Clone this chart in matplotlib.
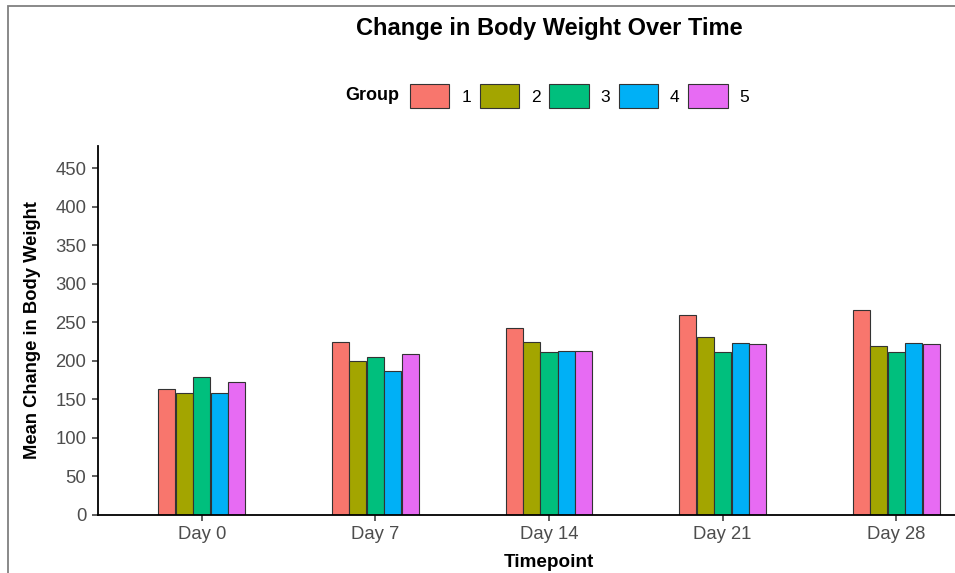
import matplotlib
matplotlib.use("Agg")
import matplotlib.pyplot as plt
from matplotlib.patches import Patch, Rectangle
import numpy as np

plt.rcParams['font.family'] = ['Liberation Sans', 'DejaVu Sans']

timepoints = ["Day 0", "Day 7", "Day 14", "Day 21", "Day 28"]
groups = ["1", "2", "3", "4", "5"]
group1 = [163, 224, 242, 259, 266]
group2 = [158, 199, 224, 231, 219]
group3 = [179, 205, 211, 211, 211]
group4 = [158, 186, 213, 223, 223]
group5 = [172, 209, 212, 221, 221]
series = [group1, group2, group3, group4, group5]
colors = ["#F8766D", "#A3A500", "#00BF7D", "#00B0F6", "#E76BF3"]
yticks = [0, 50, 100, 150, 200, 250, 300, 350, 400, 450]

W, H = 955, 573
fig = plt.figure(figsize=(W / 100, H / 100), dpi=100)
ax = fig.add_axes([97.5 / W, (H - 514.5) / H, 903 / W, (514.5 - 146) / H])

x = np.arange(len(timepoints))
bw = 0.098
for i, (vals, c) in enumerate(zip(series, colors)):
    ax.bar(x + (i - 2) * 0.1, vals, width=bw, color=c, edgecolor="#333333",
           linewidth=0.8, zorder=2)

ax.set_xlim(-0.6, 4.6)
ax.set_ylim(0, 479)
ax.set_xticks(x)
ax.set_xticklabels(timepoints)
ax.set_yticks(yticks)
ax.tick_params(axis='both', labelsize=13.3, labelcolor="#4D4D4D", color="#333333",
               length=4, width=1.1, pad=4)
for s in ["top", "right"]:
    ax.spines[s].set_visible(False)
for s in ["left", "bottom"]:
    ax.spines[s].set_linewidth(1.3)
    ax.spines[s].set_color("black")

ax.set_xlabel("Timepoint", fontsize=13.6, fontweight="bold", labelpad=8)
ax.set_ylabel("Mean Change in Body Weight", fontsize=13.2, fontweight="bold", labelpad=10)

fig.text(549 / W, 1 - 29 / H, "Change in Body Weight Over Time", ha="center", va="center",
         fontsize=17, fontweight="bold")

handles = [Patch(facecolor=c, edgecolor="#333333", linewidth=0.8) for c in colors]
leg = fig.legend(handles, groups, ncol=5, loc="center left",
                 bbox_to_anchor=(410 / W, 1 - 96 / H), frameon=False, fontsize=12.5,
                 handlelength=2.27, handleheight=1.75, handletextpad=0.68,
                 columnspacing=0.5, borderpad=0, borderaxespad=0)
fig.text(345 / W, 1 - 96 / H, "Group", ha="left", va="center", fontsize=13,
         fontweight="bold")

border = Rectangle((8 / W, -0.1), 1.2, 1.1 - 5.7 / H, transform=fig.transFigure,
                   fill=False, edgecolor="#808080", linewidth=1.3, clip_on=False)
fig.patches.append(border)

fig.savefig("out.png", dpi=100)
